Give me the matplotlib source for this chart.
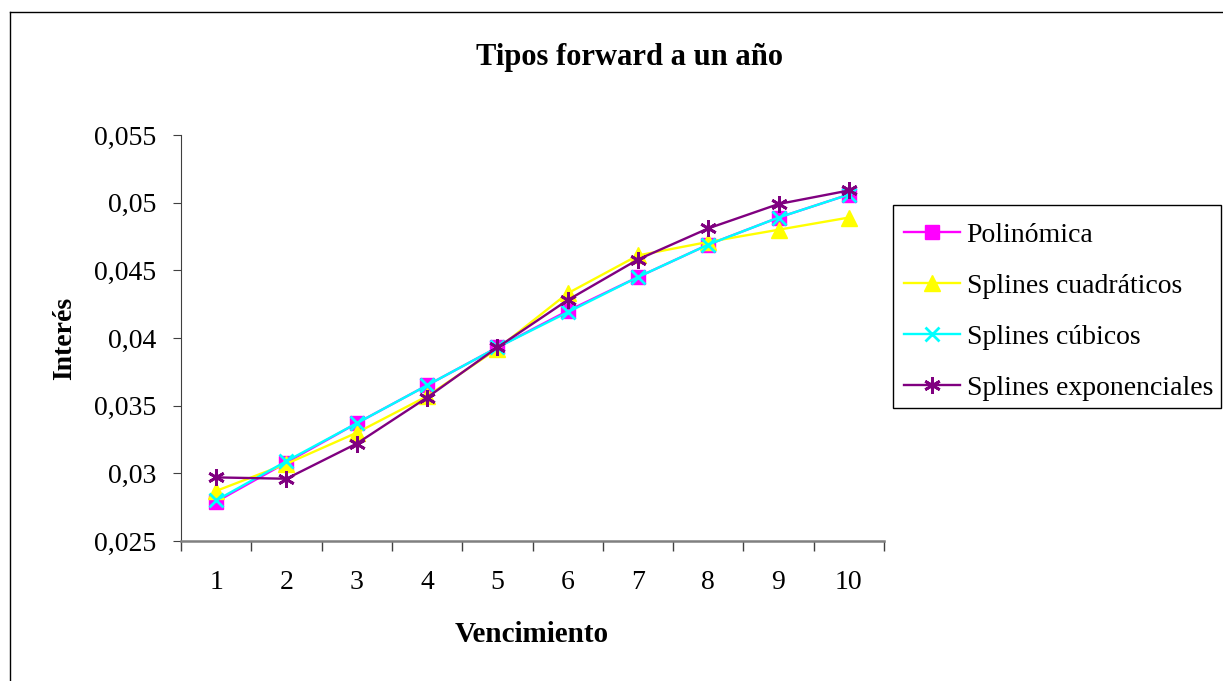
import matplotlib.pyplot as plt
from matplotlib.ticker import FuncFormatter
from matplotlib.lines import Line2D
from matplotlib.patches import Rectangle

plt.rcParams['font.family'] = ['Liberation Serif', 'DejaVu Serif']

# Data
vencimiento = [1, 2, 3, 4, 5, 6, 7, 8, 9, 10]
polinomica = [0.0279, 0.0308, 0.0337, 0.0365, 0.0393, 0.0420, 0.0445, 0.0469, 0.0489, 0.0506]
cuadraticos = [0.0287, 0.0307, 0.0330, 0.0357, 0.0392, 0.0433, 0.0461, 0.0471, 0.0480, 0.0489]
cubicos = [0.0280, 0.0309, 0.0337, 0.0365, 0.0393, 0.0419, 0.0445, 0.0469, 0.0489, 0.0506]
exponenciales = [0.0297, 0.0296, 0.0322, 0.0356, 0.0393, 0.0428, 0.0458, 0.0481, 0.0499, 0.0509]

W, H = 1223, 681
fig = plt.figure(figsize=(W / 100, H / 100), dpi=100)
ax = fig.add_axes([181 / W, 1 - 541 / H, (884 - 181) / W, (541 - 135) / H])

ax.plot(vencimiento, polinomica, color='#FF00FF', marker='s', markersize=10, lw=1.7,
        label='Polinómica')
ax.plot(vencimiento, cuadraticos, color='#FFFF00', marker='^', markersize=11, lw=1.7,
        label='Splines cuadráticos')
ax.plot(vencimiento, cubicos, color='#00FFFF', marker='x', markersize=10, mew=2, lw=1.7,
        label='Splines cúbicos')
ax.plot(vencimiento, exponenciales, color='#800080', marker=(6, 2, 0), markersize=12, mew=2,
        lw=1.7, label='Splines exponenciales')

ax.set_xlim(0.5, 10.5)
ax.set_ylim(0.025, 0.055)
ax.set_yticks([0.025, 0.03, 0.035, 0.04, 0.045, 0.05, 0.055])
ax.yaxis.set_major_formatter(FuncFormatter(lambda v, p: ('%g' % v).replace('.', ',')))

# category axis: ticks between categories, labels centered
ax.set_xticks([x + 0.5 for x in range(0, 11)])
ax.set_xticklabels([])
ax.set_xticks(vencimiento, minor=True)
ax.set_xticklabels([str(v) for v in vencimiento], minor=True)
ax.tick_params(axis='x', which='minor', length=0, pad=21, labelsize=20)
ax.tick_params(axis='x', which='major', length=7, direction='out', width=1, color='#404040')
ax.tick_params(axis='y', length=6, direction='out', labelsize=20, pad=12, color='#404040')

ax.spines['top'].set_visible(False)
ax.spines['right'].set_visible(False)
ax.spines['bottom'].set_color('#808080')
ax.spines['bottom'].set_linewidth(1.8)
ax.spines['left'].set_color('#404040')

fig.text(629 / W, 1 - 57 / H, 'Tipos forward a un año', fontsize=22, fontweight='bold',
         ha='center', va='center')
fig.text(532 / W, 1 - 635 / H, 'Vencimiento', fontsize=21, fontweight='bold',
         ha='center', va='center')
fig.text(65 / W, 1 - 338 / H, 'Interés', fontsize=20, fontweight='bold',
         ha='center', va='center', rotation=90)

# legend without its own frame; box drawn separately to match the original placement
ax.legend(loc='upper left', bbox_to_anchor=(893 / W, 1 - 211 / H), bbox_transform=fig.transFigure,
          fontsize=20, frameon=False, borderaxespad=0,
          handlelength=2.0, handletextpad=0.25, labelspacing=0.92, borderpad=0.4)
fig.add_artist(Rectangle((893 / W, 1 - 408 / H), (1221 - 893) / W, (408 - 205) / H,
                         transform=fig.transFigure, fill=False, ec='black', lw=1))

# outer chart border (left and top edges visible)
fig.add_artist(Line2D([10 / W, 10 / W], [0.0, 1 - 12 / H], transform=fig.transFigure, color='black', lw=1))
fig.add_artist(Line2D([10 / W, 1.0], [1 - 12 / H, 1 - 12 / H], transform=fig.transFigure, color='black', lw=1))

fig.savefig('out.png', dpi=100)
